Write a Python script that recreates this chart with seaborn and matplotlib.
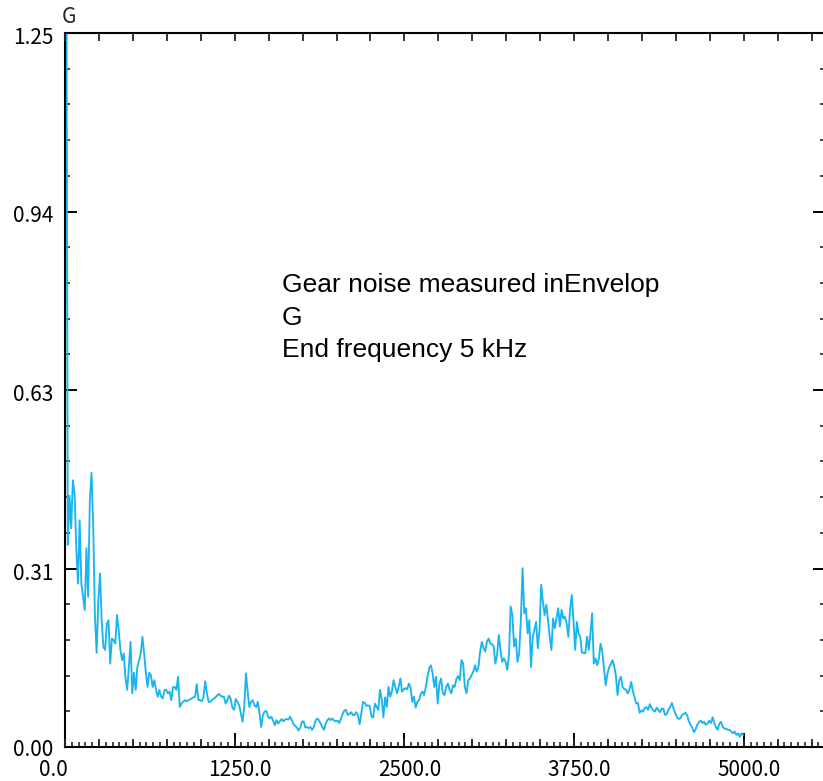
import numpy as np
import pandas as pd
import matplotlib
matplotlib.use("Agg")
import matplotlib.pyplot as plt
from matplotlib.ticker import FixedLocator, FixedFormatter, MultipleLocator, NullLocator
from matplotlib.transforms import ScaledTranslation
import seaborn as sns

# Envelope spectrum, one amplitude per 12.5 Hz line (G)
FREQ_START_HZ = 8.0
FREQ_STEP_HZ = 12.5

AMP_0_1000 = [
    1.60, 0.354, 0.44, 0.383, 0.467, 0.444, 0.35, 0.286, 0.397, 0.286,
    0.263, 0.24, 0.348, 0.263, 0.432, 0.48, 0.386, 0.228, 0.165, 0.257,
    0.304, 0.22, 0.175, 0.17, 0.216, 0.222, 0.146, 0.19, 0.187, 0.181,
    0.231, 0.205, 0.17, 0.152, 0.164, 0.12, 0.10, 0.14, 0.184, 0.094,
    0.13, 0.10, 0.14, 0.152, 0.164, 0.193, 0.164, 0.13, 0.105, 0.13,
    0.126, 0.105, 0.117, 0.10, 0.088, 0.10, 0.088, 0.085, 0.10, 0.10,
    0.094, 0.097, 0.082, 0.105, 0.105, 0.10, 0.123, 0.07, 0.076, 0.079,
    0.082, 0.08, 0.082, 0.083, 0.085, 0.087, 0.088, 0.11, 0.082, 0.082,
]
AMP_1000_2400 = [
    0.08, 0.088, 0.115, 0.094, 0.079, 0.079, 0.082, 0.084, 0.087, 0.09,
    0.093, 0.09, 0.088, 0.088, 0.076, 0.082, 0.09, 0.084, 0.069, 0.065,
    0.084, 0.079, 0.073, 0.059, 0.044, 0.07, 0.129, 0.097, 0.07, 0.079,
    0.082, 0.073, 0.07, 0.079, 0.059, 0.035, 0.056, 0.062, 0.063, 0.053,
    0.05, 0.053, 0.046, 0.038, 0.047, 0.041, 0.045, 0.049, 0.045, 0.048,
    0.049, 0.048, 0.053, 0.047, 0.04, 0.037, 0.034, 0.029, 0.034, 0.044,
    0.045, 0.034, 0.035, 0.033, 0.035, 0.03, 0.035, 0.046, 0.05, 0.047,
    0.041, 0.035, 0.03, 0.041, 0.047, 0.05, 0.047, 0.05, 0.046, 0.045,
    0.046, 0.042, 0.05, 0.058, 0.064, 0.065, 0.056, 0.058, 0.061, 0.056,
    0.056, 0.061, 0.055, 0.04, 0.059, 0.079, 0.077, 0.072, 0.073, 0.071,
    0.053, 0.052, 0.076, 0.07, 0.065, 0.1, 0.084, 0.052, 0.087, 0.07,
    0.105, 0.088,
]
AMP_2400_3800 = [
    0.097, 0.117, 0.105, 0.094, 0.105, 0.12, 0.097, 0.101, 0.103, 0.101,
    0.111, 0.104, 0.079, 0.088, 0.069, 0.079, 0.082, 0.093, 0.097, 0.091,
    0.105, 0.123, 0.138, 0.143, 0.129, 0.105, 0.123, 0.076, 0.111, 0.12,
    0.094, 0.091, 0.105, 0.111, 0.1, 0.094, 0.108, 0.105, 0.119, 0.124,
    0.117, 0.152, 0.146, 0.105, 0.094, 0.117, 0.12, 0.126, 0.132, 0.143,
    0.132, 0.14, 0.167, 0.184, 0.173, 0.167, 0.184, 0.19, 0.181, 0.18,
    0.176, 0.146, 0.161, 0.196, 0.17, 0.149, 0.155, 0.149, 0.135, 0.161,
    0.246, 0.231, 0.176, 0.19, 0.149, 0.164, 0.222, 0.313, 0.234, 0.243,
    0.199, 0.222, 0.14, 0.193, 0.205, 0.219, 0.173, 0.205, 0.284, 0.254,
    0.231, 0.249, 0.222, 0.193, 0.17, 0.225, 0.208, 0.225, 0.243, 0.211,
    0.24, 0.225, 0.228, 0.216, 0.193, 0.24, 0.266, 0.222, 0.17, 0.219,
    0.199, 0.193,
]
AMP_3800_5000 = [
    0.165, 0.165, 0.164, 0.193, 0.17, 0.199, 0.234, 0.146, 0.155, 0.143,
    0.155, 0.181, 0.167, 0.138, 0.108, 0.128, 0.139, 0.145, 0.152, 0.142,
    0.125, 0.091, 0.117, 0.123, 0.104, 0.102, 0.1, 0.094, 0.1, 0.114,
    0.098, 0.087, 0.076, 0.077, 0.06, 0.064, 0.062, 0.068, 0.07, 0.065,
    0.075, 0.069, 0.064, 0.062, 0.069, 0.065, 0.061, 0.067, 0.067, 0.056,
    0.058, 0.065, 0.07, 0.077, 0.067, 0.059, 0.052, 0.049, 0.05, 0.056,
    0.058, 0.06, 0.056, 0.045, 0.039, 0.034, 0.026, 0.031, 0.039, 0.044,
    0.046, 0.042, 0.044, 0.039, 0.041, 0.046, 0.042, 0.052, 0.042, 0.035,
    0.03, 0.041, 0.044, 0.035, 0.032, 0.032, 0.03, 0.03, 0.027, 0.024,
    0.027, 0.021, 0.024, 0.018, 0.024, 0.021,
]

X_TICKS = [0, 1250, 2500, 3750, 5000]
X_TICK_LABELS = ["0.0", "1250.0", "2500.0", "3750.0", "5000.0"]
Y_TICKS = [0.0, 0.3125, 0.625, 0.9375, 1.25]
Y_TICK_LABELS = ["0.00", "0.31", "0.63", "0.94", "1.25"]
UNIT_LABEL = "G"
NOTE_LINES = ["Gear noise measured inEnvelop", "G", "End frequency 5 kHz"]

amplitude = np.array(AMP_0_1000 + AMP_1000_2400 + AMP_2400_3800 + AMP_3800_5000)
freq_hz = FREQ_START_HZ + FREQ_STEP_HZ * np.arange(len(amplitude))
spectrum = pd.DataFrame({"freq": freq_hz, "amp": amplitude})

sns.set_style("white")
TICK_FONT = ["Noto Sans CJK JP", "DejaVu Sans"]
NOTE_FONT = ["Liberation Sans", "DejaVu Sans"]
plt.rcParams["font.family"] = TICK_FONT
TICK_SIZE = 15

W, H, DPI = 823, 781, 100
fig = plt.figure(figsize=(W / DPI, H / DPI), dpi=DPI)
fig.patch.set_facecolor("white")

left_px, right_px, top_px, bottom_px = 65, 825.2, 33, 747
ax = fig.add_axes([left_px / W, (H - bottom_px) / H,
                   (right_px - left_px) / W, (bottom_px - top_px) / H])

sns.lineplot(data=spectrum, x="freq", y="amp", ax=ax, color="#1ab4ee",
             linewidth=1.35, estimator=None)

ax.set_xlim(0, 5600)
ax.set_ylim(0, 1.25)
ax.set_xlabel("")
ax.set_ylabel("")

for s in ax.spines.values():
    s.set_visible(True)
    s.set_color("black")
    s.set_linewidth(1.5)

# x axis: long ticks every 1250, short every 50 (both edges, pointing inward)
ax.xaxis.set_major_locator(FixedLocator(X_TICKS))
ax.xaxis.set_major_formatter(FixedFormatter(X_TICK_LABELS))
ax.xaxis.set_minor_locator(MultipleLocator(50))
ax.tick_params(axis="x", which="major", direction="in", length=10, width=1.4,
               top=True, bottom=True, labelsize=TICK_SIZE, pad=8.5, colors="black")
ax.tick_params(axis="x", which="minor", direction="in", length=3.6, width=1.2,
               top=True, bottom=True)

# y axis: long ticks at labelled values, short every 0.0625
ax.yaxis.set_major_locator(FixedLocator(Y_TICKS))
ax.yaxis.set_major_formatter(FixedFormatter(Y_TICK_LABELS))
ax.yaxis.set_minor_locator(MultipleLocator(0.0625))
ax.tick_params(axis="y", which="major", direction="in", length=8.6, width=1.4,
               left=True, right=True, labelsize=TICK_SIZE, pad=8.6, colors="black")
ax.tick_params(axis="y", which="minor", direction="in", length=3.6, width=1.2,
               left=True, right=True)

# mid-length ticks every 250 on the frequency axis
mid = ax.twiny()
mid.set_xlim(ax.get_xlim())
mid.xaxis.set_major_locator(MultipleLocator(250))
mid.xaxis.set_minor_locator(NullLocator())
mid.tick_params(axis="x", which="major", direction="in", length=5.8, width=1.3,
                top=True, bottom=True, labeltop=False, labelbottom=False)
for s in mid.spines.values():
    s.set_visible(False)

# frequency labels sit slightly right of their ticks; the origin label sits left
for i, lbl in enumerate(ax.get_xticklabels()):
    dx = -12 if i == 0 else 5
    lbl.set_transform(lbl.get_transform() + ScaledTranslation(dx / DPI, 0, fig.dpi_scale_trans))
# amplitude labels sit a little below their ticks (except at the origin)
for i, lbl in enumerate(ax.get_yticklabels()):
    dy = 0 if i == 0 else -2.5
    lbl.set_transform(lbl.get_transform() + ScaledTranslation(0, dy / DPI, fig.dpi_scale_trans))

fig.text(62 / W, 1 - 6 / H, UNIT_LABEL, ha="left", va="top", fontsize=TICK_SIZE,
         family=TICK_FONT)

note_baselines_px = [292, 325, 357]
for line, yb in zip(NOTE_LINES, note_baselines_px):
    fig.text(282 / W, 1 - yb / H, line, ha="left", va="baseline",
             fontsize=19, family=NOTE_FONT, color="black")

fig.savefig("out.png", dpi=DPI, facecolor="white")
